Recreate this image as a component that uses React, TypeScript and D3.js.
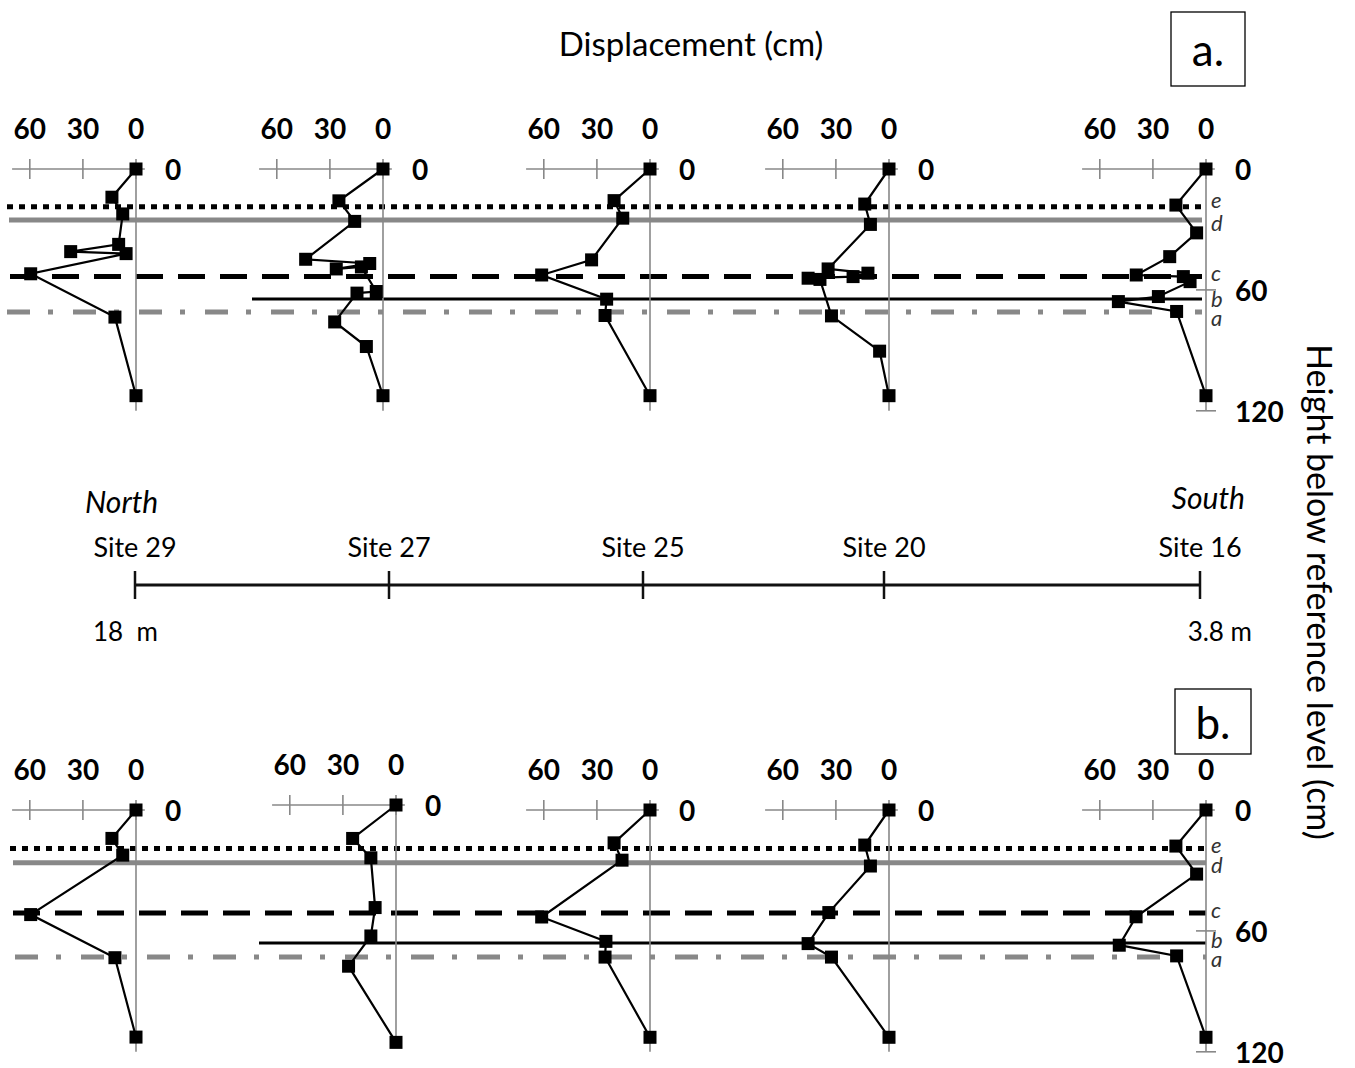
import { useEffect, useRef } from 'react';
import * as d3 from 'd3';

// ---- data ----
const sites = ['Site 29', 'Site 27', 'Site 25', 'Site 20', 'Site 16'];
const dispTicks = [60, 30, 0];
const depthTicks = [0, 60, 120];
const horizonNames = ['e', 'd', 'c', 'b', 'a'];
const horizonDepthA = [18.7, 25.3, 53.4, 64.5, 71];
const horizonDepthB = [19.1, 26.2, 51.1, 66, 73];

// panel a (displacement cm, depth cm)
const a29Disp = [0, 13.6, 7.5, 9.8, 36.9, 5.6, 59.5, 11.9, 0];
const a29Depth = [0, 14, 22.3, 37.4, 41, 42, 52, 73.5, 112.5];
const a27Disp = [0, 24.9, 16, 43.7, 7.5, 26.4, 12.2, 3.8, 14.7, 27.3, 9.4, 0];
const a27Depth = [0, 15.8, 26, 44.8, 46.9, 49.6, 48.6, 60.8, 61.6, 75.9, 88.1, 112.5];
const a25Disp = [0, 20.3, 15.4, 33, 61.2, 24.5, 25.4, 0];
const a25Depth = [0, 15.7, 24.4, 45.1, 52.6, 64.6, 72.7, 112.5];
const a20Disp = [0, 13.7, 10.5, 34.4, 11.9, 20.3, 45.7, 39, 32.5, 5.3, 0];
const a20Depth = [0, 17.4, 27.5, 49.6, 51.7, 53.4, 54.2, 54.8, 72.9, 90.4, 112.5];
const a16Disp = [0, 17, 5.3, 20.5, 39.4, 12.8, 9, 26.9, 49.5, 16.6, 0];
const a16Depth = [0, 17.9, 31.7, 43.5, 52.6, 53.4, 55.9, 63.3, 65.8, 70.7, 112.5];

// panel b
const b29Disp = [0, 13.6, 7.5, 59.5, 11.9, 0];
const b29Depth = [0, 14.1, 22.4, 51.9, 73.3, 112.7];
const b27Disp = [0, 24.5, 14.2, 11.8, 14.2, 26.8, 0];
const b27Depth = [0, 16.6, 26.2, 50.9, 65, 80, 117.8];
const b25Disp = [0, 20.3, 15.8, 61.2, 24.9, 25.4, 0];
const b25Depth = [0, 16.3, 24.9, 53.1, 65.2, 73, 112.8];
const b20Disp = [0, 13.7, 10.5, 34, 45.7, 32.5, 0];
const b20Depth = [0, 17.4, 27.8, 50.9, 66.3, 73, 112.8];
const b16Disp = [0, 17, 5.3, 39.5, 49, 16.6, 0];
const b16Depth = [0, 17.9, 31.8, 53, 67.1, 72.4, 112.8];

type Profile = { disp: number[]; depth: number[] };

const panels = [
  {
    label: 'a.',
    horizons: horizonDepthA,
    profiles: [
      { disp: a29Disp, depth: a29Depth },
      { disp: a27Disp, depth: a27Depth },
      { disp: a25Disp, depth: a25Depth },
      { disp: a20Disp, depth: a20Depth },
      { disp: a16Disp, depth: a16Depth },
    ] as Profile[],
    // layout
    y0: 169,
    cols: [136, 383, 650, 889, 1206],
    dy: [0, 0, 0, 0, 0],
    hStart: [7, 9, 10, 252, 7],
    hEnd: 1202,
    box: [1171, 12, 74, 74],
    letterDy: [-7, 3, -4, 0, 5],
  },
  {
    label: 'b.',
    horizons: horizonDepthB,
    profiles: [
      { disp: b29Disp, depth: b29Depth },
      { disp: b27Disp, depth: b27Depth },
      { disp: b25Disp, depth: b25Depth },
      { disp: b20Disp, depth: b20Depth },
      { disp: b16Disp, depth: b16Depth },
    ] as Profile[],
    y0: 810,
    cols: [136, 396, 650, 889, 1206],
    dy: [0, -5, 0, 0, 0],
    hStart: [10, 13, 13, 259, 15],
    hEnd: 1206,
    box: [1175, 689, 76, 65],
    letterDy: [-4, 2, -3, -3, 1],
  },
];

const horizonStyle = [
  { stroke: '#000', width: 5, dash: '6 6' },
  { stroke: '#888', width: 5, dash: null },
  { stroke: '#000', width: 5, dash: '27 15' },
  { stroke: '#000', width: 3, dash: null },
  { stroke: '#888', width: 5, dash: '23 18 5 20' },
];

const siteX = [135, 389, 643, 884, 1200];
const FONT = 'Lato, "Open Sans", sans-serif';
const KX = 1.77; // px per cm displacement
const KY = 2.015; // px per cm depth

export default function App() {
  const svgRef = useRef<SVGSVGElement | null>(null);

  useEffect(() => {
    if (!svgRef.current) return;
    const svg = d3.select(svgRef.current);
    svg.selectAll('*').remove();
    svg.attr('font-family', FONT);

    // title
    svg
      .append('text')
      .attr('x', 691)
      .attr('y', 56)
      .attr('text-anchor', 'middle')
      .attr('font-size', 33)
      .text('Displacement (cm)');

    // right axis title
    svg
      .append('text')
      .attr('transform', 'translate(1320,592) rotate(90)')
      .attr('text-anchor', 'middle')
      .attr('dominant-baseline', 'central')
      .attr('font-size', 34)
      .text('Height below reference level (cm)');

    panels.forEach((p) => {
      const g = svg.append('g');
      const depthMain = d3.scaleLinear().domain([0, 120]).range([p.y0, p.y0 + 120 * KY]);

      // horizon lines
      p.horizons.forEach((h, i) => {
        const st = horizonStyle[i];
        g.append('line')
          .attr('x1', p.hStart[i])
          .attr('x2', p.hEnd)
          .attr('y1', depthMain(h))
          .attr('y2', depthMain(h))
          .attr('stroke', st.stroke)
          .attr('stroke-width', st.width)
          .attr('stroke-dasharray', st.dash ?? null);
        g.append('text')
          .attr('x', p.cols[4] + 5)
          .attr('y', depthMain(h) + p.letterDy[i])
          .attr('dominant-baseline', 'central')
          .attr('font-style', 'italic')
          .attr('font-size', 22)
          .attr('fill', '#333')
          .text(horizonNames[i]);
      });

      // box label
      const [bx, by, bw, bh] = p.box;
      g.append('rect')
        .attr('x', bx)
        .attr('y', by)
        .attr('width', bw)
        .attr('height', bh)
        .attr('fill', 'none')
        .attr('stroke', '#000')
        .attr('stroke-width', 1.3);
      g.append('text')
        .attr('x', bx + bw / 2)
        .attr('y', by + bh / 2)
        .attr('text-anchor', 'middle')
        .attr('dominant-baseline', 'central')
        .attr('font-size', 44)
        .text(p.label);

      p.profiles.forEach((prof, k) => {
        const x0 = p.cols[k];
        const y0 = p.y0 + p.dy[k];
        const x = d3.scaleLinear().domain([0, 60]).range([x0, x0 - 60 * KX]);
        const y = d3.scaleLinear().domain([0, 120]).range([y0, y0 + 120 * KY]);
        const pg = g.append('g');

        // displacement axis (top)
        pg.append('line')
          .attr('x1', x(70))
          .attr('x2', x(-5))
          .attr('y1', y(0))
          .attr('y2', y(0))
          .attr('stroke', '#888')
          .attr('stroke-width', 1.6);
        pg.selectAll('line.xt')
          .data(dispTicks)
          .join('line')
          .attr('class', 'xt')
          .attr('x1', (d) => x(d))
          .attr('x2', (d) => x(d))
          .attr('y1', y(0) - 10)
          .attr('y2', y(0) + 10)
          .attr('stroke', '#888')
          .attr('stroke-width', 1.6);
        pg.selectAll('text.xl')
          .data(dispTicks)
          .join('text')
          .attr('class', 'xl')
          .attr('x', (d) => x(d))
          .attr('y', y(0) - 41)
          .attr('text-anchor', 'middle')
          .attr('dominant-baseline', 'central')
          .attr('font-weight', 'bold')
          .attr('font-size', 28)
          .text((d) => String(d));

        // depth axis (vertical)
        pg.append('line')
          .attr('x1', x(0))
          .attr('x2', x(0))
          .attr('y1', y(0))
          .attr('y2', y(120))
          .attr('stroke', '#888')
          .attr('stroke-width', 1.6);
        const isLast = k === p.profiles.length - 1;
        const yTicks = isLast ? depthTicks : [0];
        if (isLast) {
          pg.selectAll('line.yt')
            .data(depthTicks.slice(1))
            .join('line')
            .attr('class', 'yt')
            .attr('x1', x(0) - 10)
            .attr('x2', x(0) + 10)
            .attr('y1', (d) => y(d))
            .attr('y2', (d) => y(d))
            .attr('stroke', '#888')
            .attr('stroke-width', 1.6);
        }
        pg.selectAll('text.yl')
          .data(yTicks)
          .join('text')
          .attr('class', 'yl')
          .attr('x', x(0) + 29)
          .attr('y', (d) => y(d))
          .attr('dominant-baseline', 'central')
          .attr('font-weight', 'bold')
          .attr('font-size', 28)
          .text((d) => String(d));

        // profile line + square markers
        const pts = prof.disp.map((v, i) => [v, prof.depth[i]] as [number, number]);
        const line = d3
          .line<[number, number]>()
          .x((d) => x(d[0]))
          .y((d) => y(d[1]));
        pg.append('path')
          .attr('d', line(pts) ?? '')
          .attr('fill', 'none')
          .attr('stroke', '#000')
          .attr('stroke-width', 2.2);
        pg.selectAll('rect.pt')
          .data(pts)
          .join('rect')
          .attr('class', 'pt')
          .attr('x', (d) => x(d[0]) - 6.5)
          .attr('y', (d) => y(d[1]) - 6.5)
          .attr('width', 13)
          .attr('height', 13)
          .attr('fill', '#000');
      });
    });

    // site transect
    const tg = svg.append('g');
    tg.append('line')
      .attr('x1', siteX[0])
      .attr('x2', siteX[siteX.length - 1])
      .attr('y1', 585)
      .attr('y2', 585)
      .attr('stroke', '#111')
      .attr('stroke-width', 3);
    tg.selectAll('line.st')
      .data(sites)
      .join('line')
      .attr('class', 'st')
      .attr('x1', (_, i) => siteX[i])
      .attr('x2', (_, i) => siteX[i])
      .attr('y1', 571)
      .attr('y2', 599)
      .attr('stroke', '#111')
      .attr('stroke-width', 2.5);
    tg.selectAll('text.sl')
      .data(sites)
      .join('text')
      .attr('class', 'sl')
      .attr('x', (_, i) => siteX[i])
      .attr('y', 557)
      .attr('text-anchor', 'middle')
      .attr('font-size', 27)
      .text((d) => d);
    tg.append('text')
      .attr('x', 85)
      .attr('y', 513)
      .attr('font-style', 'italic')
      .attr('font-size', 30)
      .text('North');
    tg.append('text')
      .attr('x', 1245)
      .attr('y', 509)
      .attr('text-anchor', 'end')
      .attr('font-style', 'italic')
      .attr('font-size', 30)
      .text('South');
    tg.append('text')
      .attr('x', 93)
      .attr('y', 641)
      .attr('font-size', 26)
      .attr('xml:space', 'preserve')
      .text('18  m');
    tg.append('text')
      .attr('x', 1252)
      .attr('y', 641)
      .attr('text-anchor', 'end')
      .attr('font-size', 26)
      .text('3.8 m');
  }, []);

  return (
    <svg
      ref={svgRef}
      width={1355}
      height={1068}
      style={{ position: 'absolute', left: 0, top: 0, background: '#fff' }}
      role="img"
      aria-label="Displacement profiles"
    />
  );
}
